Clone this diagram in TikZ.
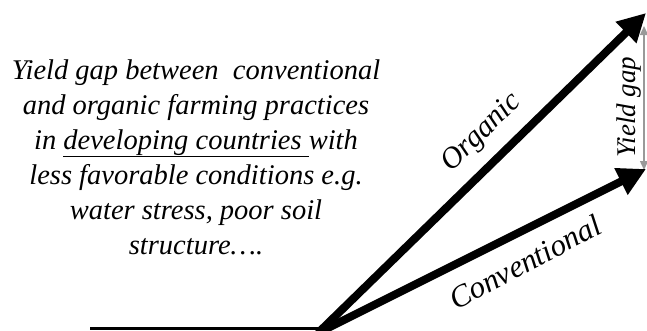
\documentclass[tikz,border=0pt]{standalone}
\usepackage{fontspec}
\setmainfont{Liberation Serif}
\usetikzlibrary{arrows.meta}
\begin{document}
\begin{tikzpicture}[x=1pt,y=-1pt,
  bigarrow/.style={line width=8pt,-{Triangle[length=28pt,width=28pt]}},
  lbl/.style={font=\itshape\fontsize{28.5}{35}\selectfont},
  gaparrow/.style={draw=gray!80,line width=1.5pt,{Triangle[length=9pt,width=8pt]}-{Triangle[length=9pt,width=8pt]}}]
\useasboundingbox (0,0) rectangle (647,330);
\coordinate (o) at (318,333);
\coordinate (base) at (90,328);
\coordinate (baseend) at (322,328);
\coordinate (orgtip) at (646,13);
\coordinate (contip) at (646,169);
\coordinate (gtop) at (644,26);
\coordinate (gbot) at (644,170);
\draw[line width=3pt] (base) -- (baseend);
\draw[gaparrow] (gtop) -- (gbot);
\draw[bigarrow] (o) -- (orgtip);
\draw[bigarrow] (o) -- (contip);
\node[lbl,align=center] (desc) at (196,157)
  {Yield gap between\ \ conventional\\ and organic farming practices\\ in \underline{developing countries }with\\ less favorable conditions e.g.\\ water stress, poor soil\\ structure\dots.};
\node[font=\itshape\fontsize{30}{35}\selectfont,rotate=44] (org) at (482,133) {Organic};
\node[font=\itshape\fontsize{31}{35}\selectfont,rotate=28] (con) at (525,262) {Conventional};
\node[font=\itshape\fontsize{27}{30}\selectfont,rotate=90,fill=white,inner sep=1pt] (yg) at (629,107) {Yield gap};
\end{tikzpicture}
\end{document}
